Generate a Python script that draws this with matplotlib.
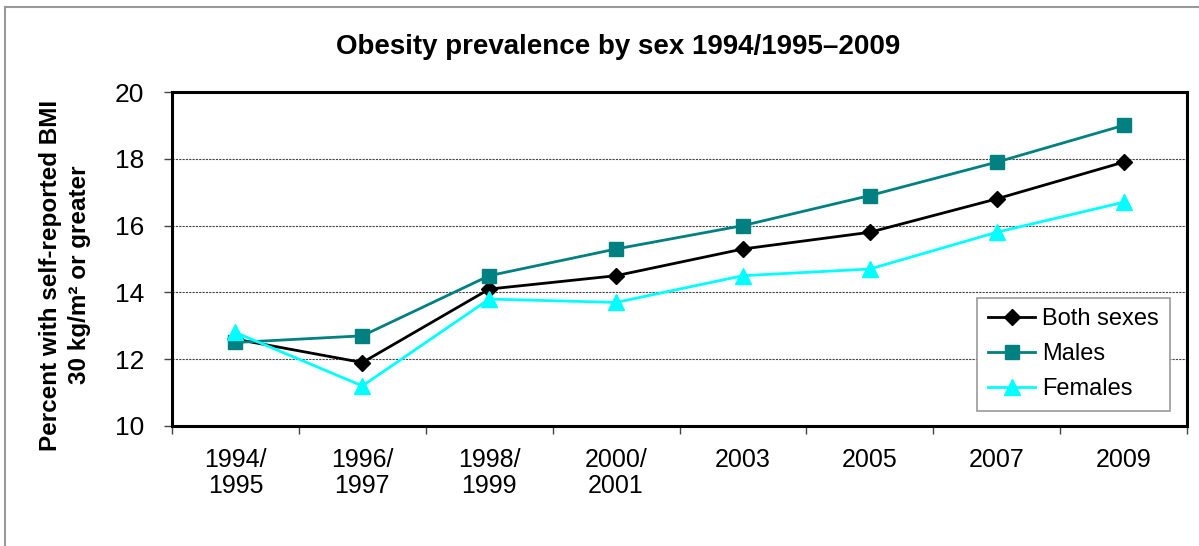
import numpy as np
import matplotlib.pyplot as plt
from matplotlib.lines import Line2D

plt.rcParams['font.family'] = ['Liberation Sans', 'DejaVu Sans']

periods = ["1994/\n1995", "1996/\n1997", "1998/\n1999", "2000/\n2001",
           "2003", "2005", "2007", "2009"]
both_sexes = [12.6, 11.9, 14.1, 14.5, 15.3, 15.8, 16.8, 17.9]
males = [12.5, 12.7, 14.5, 15.3, 16.0, 16.9, 17.9, 19.0]
females = [12.8, 11.2, 13.8, 13.7, 14.5, 14.7, 15.8, 16.7]

fig = plt.figure(figsize=(11.99, 5.46), dpi=100)
ax = fig.add_axes([0.1435, 0.2198, 0.8465, 0.6117])

x = np.arange(len(periods))
ax.plot(x, both_sexes, color='black', lw=2, marker='D', ms=8, label='Both sexes', zorder=3)
ax.plot(x, males, color='#008080', lw=2, marker='s', ms=10, label='Males', zorder=3)
ax.plot(x, females, color='#00FFFF', lw=2, marker='^', ms=11, label='Females', zorder=3)

ax.set_xlim(-0.5, len(periods) - 0.5)
ax.set_ylim(10, 20)
ax.set_yticks([10, 12, 14, 16, 18, 20])
ax.set_xticks(x)
ax.set_xticklabels(periods, fontsize=18, linespacing=1.1)
ax.set_xticks(np.arange(-0.5, len(periods)), minor=True)
ax.tick_params(axis='x', which='major', length=0, pad=16)
ax.tick_params(axis='x', which='minor', length=6, width=1, direction='out', color='#444444')
ax.tick_params(axis='y', length=6, width=1, direction='out', labelsize=19, pad=14, color='#444444')

ax.grid(axis='y', color='#444444', lw=0.8, ls=(0, (2, 1)))
ax.set_axisbelow(True)
for s in ax.spines.values():
    s.set_linewidth(2.2)
    s.set_color('black')

fig.text(618 / 1199, 1 - 47 / 546, 'Obesity prevalence by sex 1994/1995\u20132009',
         fontsize=20, fontweight='bold', ha='center', va='center')
fig.text(65 / 1199, 1 - 275 / 546, 'Percent with self-reported BMI\n30 kg/m\u00b2 or greater',
         fontsize=17.5, fontweight='bold', rotation=90, ha='center', va='center',
         multialignment='center', linespacing=1.3)

leg = ax.legend(loc='lower right', bbox_to_anchor=(0.983, 0.045), fontsize=17,
                frameon=True, fancybox=False, edgecolor='#999999', framealpha=1,
                handlelength=2.0, borderpad=0.45, labelspacing=0.55, handletextpad=0.3,
                borderaxespad=0)
leg.get_frame().set_linewidth(1.2)

# thin gray frame along the top and left of the figure
fig.add_artist(Line2D([5 / 1199, 1], [1 - 7 / 546, 1 - 7 / 546], color='#999999', lw=1.5))
fig.add_artist(Line2D([5 / 1199, 5 / 1199], [0, 1 - 7 / 546], color='#999999', lw=1.5))

fig.savefig('out.png', dpi=100)
